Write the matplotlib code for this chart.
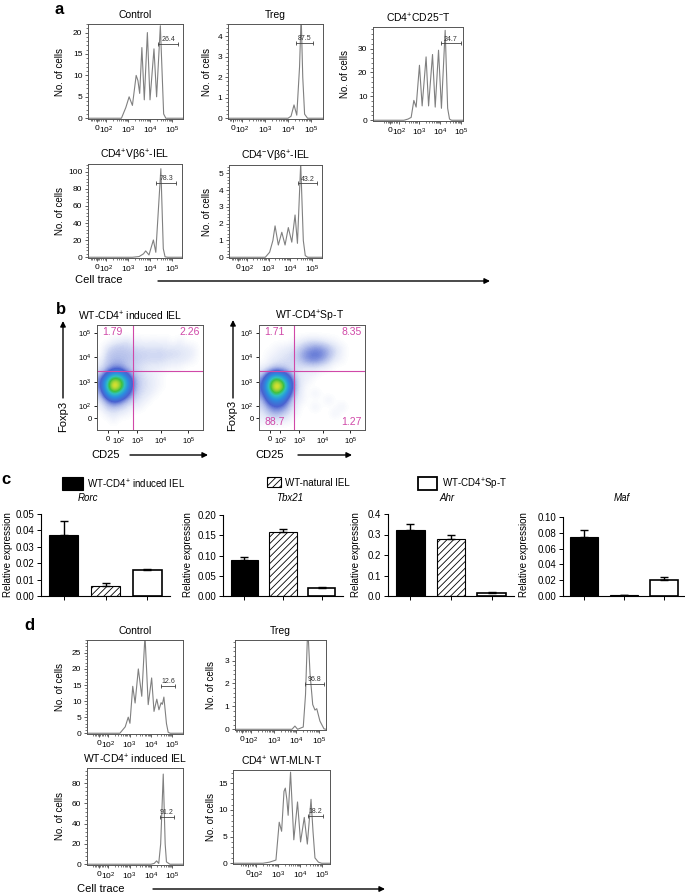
import matplotlib
matplotlib.use("Agg")
import matplotlib.pyplot as plt
import matplotlib.ticker as mticker
from matplotlib.patches import Rectangle
from matplotlib.colors import LinearSegmentedColormap
import numpy as np

W, H = 685, 896

plt.rcParams["font.family"] = ["Liberation Sans", "DejaVu Sans"]
plt.rcParams["mathtext.fontset"] = "custom"
plt.rcParams["mathtext.rm"] = "Liberation Sans"
plt.rcParams["mathtext.it"] = "Liberation Sans:italic"
plt.rcParams["hatch.linewidth"] = 0.6

# ── Data: histogram traces (x = log10 cell-trace, y = no. of cells) ──────────
a_ctrl_x = [1.18, 2.70, 2.90, 3.05, 3.20, 3.37, 3.45, 3.53, 3.63, 3.74, 3.88, 4.00,
            4.18, 4.30, 4.47, 4.62, 4.72, 5.50]
a_ctrl_y = [0, 0, 2.5, 5.0, 3.0, 10.0, 8.8, 5.8, 16.5, 4.3, 20.0, 4.3,
            16.2, 5.0, 21.6, 1.0, 0, 0]
a_treg_x = [1.39, 4.00, 4.13, 4.26, 4.38, 4.50, 4.57, 4.64, 4.72, 4.85, 5.52]
a_treg_y = [0, 0, 0.1, 0.65, 0.15, 2.5, 5.0, 2.0, 0.2, 0, 0]
a_cd25_x = [0.76, 2.25, 2.45, 2.60, 2.73, 2.84, 3.00, 3.13, 3.32, 3.44, 3.63, 3.76,
            3.92, 4.06, 4.24, 4.36, 4.45, 4.55, 5.10]
a_cd25_y = [0, 0, 0.5, 1.2, 8.3, 5.5, 23.0, 6.0, 26.5, 6.0, 27.5, 5.5,
            29.3, 5.0, 37.6, 5.0, 0.5, 0, 0]
a_vb6p_x = [1.18, 3.20, 3.50, 3.70, 3.80, 3.95, 4.15, 4.26, 4.49, 4.60, 4.68, 4.80, 5.45]
a_vb6p_y = [0, 0, 0.8, 4.0, 7.4, 2.7, 20.2, 5.8, 103.5, 10.0, 0.5, 0, 0]
a_cd4n_x = [1.18, 2.85, 3.05, 3.20, 3.30, 3.45, 3.61, 3.76, 3.91, 4.07, 4.22, 4.33,
            4.48, 4.60, 4.69, 4.80, 5.46]
a_cd4n_y = [0, 0, 0.3, 1.0, 1.87, 0.73, 1.49, 0.73, 1.77, 0.9, 2.52, 0.83,
            5.6, 1.0, 0.1, 0, 0]

d_ctrl_x = [1.02, 2.55, 2.80, 2.94, 3.02, 3.15, 3.26, 3.41, 3.57, 3.72, 3.87, 4.03,
            4.14, 4.27, 4.37, 4.47, 4.53, 4.60, 4.72, 4.80, 4.90, 5.49]
d_ctrl_y = [0, 0, 2.0, 5.0, 3.1, 14.6, 9.4, 20.0, 11.5, 30.5, 8.9, 17.2,
            6.8, 10.6, 7.3, 9.5, 9.0, 11.25, 3.0, 0.3, 0, 0]
d_treg_x = [1.27, 3.80, 3.93, 4.05, 4.30, 4.40, 4.50, 4.60, 4.72, 4.82, 4.90, 5.04, 5.22, 5.31]
d_treg_y = [0, 0, 0.14, 0, 0.1, 1.5, 4.5, 2.45, 1.08, 0.84, 0.9, 0.36, 0.02, 0]
d_iel_x = [1.02, 4.00, 4.15, 4.26, 4.36, 4.45, 4.57, 4.66, 4.72, 4.88, 5.49]
d_iel_y = [0, 0, 0.8, 3.3, 0.8, 20.0, 89.0, 20.0, 2.3, 0, 0]
d_mln_x = [0.93, 2.30, 2.60, 2.90, 3.05, 3.16, 3.27, 3.33, 3.40, 3.46, 3.57, 3.72,
           3.89, 4.03, 4.20, 4.34, 4.51, 4.60, 4.69, 4.85, 5.00, 5.38]
d_mln_y = [0, 0, 0.2, 0.6, 7.7, 6.0, 13.5, 14.1, 12.0, 9.0, 17.1, 4.4,
           11.5, 4.0, 8.6, 3.6, 12.0, 6.0, 1.0, 0.2, 0, 0]

# gates: (start, end, height, label)
a_gates = [(4.38, 5.29, 17.4, "26.4"), (4.35, 5.08, 3.68, "87.5"), (4.04, 4.99, 32.1, "24.7"),
           (4.27, 5.18, 87.2, "78.3"), (4.35, 5.25, 4.4, "43.2")]
d_gates = [(4.45, 5.12, 14.6, "12.6"), (4.38, 5.22, 1.98, "96.8"),
           (4.41, 5.07, 47.0, "91.2"), (4.35, 5.05, 8.85, "18.2")]

# ── Data: flow density grids (16 x 16, rows top -> bottom, density 0-10) ─────
iel_density = [
    [0] * 16,
    [0, 0, 0, 0, 0, 0, 0, 0, 0, 0, 0, 0, 0, 0, 0, 0],
    [0, 0, 0.3, 0.4, 0.6, 0.3, 0.3, 0.2, 0.3, 0.2, 0.3, 0, 0.3, 0, 0, 0],
    [0, 0.5, 0.8, 0.9, 0.8, 0.7, 0.6, 0.6, 0.6, 0.6, 0.5, 0.5, 0.5, 0.4, 0.3, 0],
    [0, 0.8, 1.0, 1.0, 1.0, 0.9, 0.8, 0.8, 0.7, 0.8, 0.7, 0.7, 0.6, 0.5, 0.4, 0],
    [0.3, 0.9, 1.1, 1.1, 1.0, 0.9, 0.8, 0.7, 0.7, 0.7, 0.6, 0.5, 0.5, 0.4, 0.2, 0],
    [0.5, 1.0, 1.5, 1.5, 1.0, 0.8, 0.6, 0.5, 0.4, 0.4, 0.3, 0.2, 0.2, 0, 0, 0],
    [0.9, 2.0, 3.5, 3.5, 2.0, 1.0, 0.7, 0.5, 0.3, 0.2, 0, 0, 0, 0, 0, 0],
    [1.5, 4.5, 8.0, 7.0, 4.0, 1.5, 0.8, 0.6, 0.4, 0.2, 0, 0, 0, 0, 0, 0],
    [1.5, 5.0, 9.5, 7.5, 4.0, 1.5, 0.8, 0.6, 0.4, 0.2, 0, 0, 0, 0, 0, 0],
    [1.0, 3.5, 5.5, 4.5, 2.5, 1.2, 0.7, 0.5, 0.3, 0, 0, 0, 0, 0, 0, 0],
    [0.6, 1.5, 2.5, 2.0, 1.2, 0.8, 0.5, 0.3, 0, 0, 0, 0, 0, 0, 0, 0],
    [0.3, 0.9, 1.0, 0.9, 0.6, 0.4, 0.3, 0, 0, 0, 0, 0, 0, 0, 0, 0],
    [0, 0.4, 0.6, 0.4, 0.3, 0, 0, 0, 0, 0, 0, 0, 0, 0, 0, 0],
    [0, 0, 0.3, 0, 0, 0, 0, 0, 0, 0, 0, 0, 0, 0, 0, 0],
    [0] * 16,
]
spt_density = [
    [0] * 16,
    [0] * 16,
    [0, 0, 0, 0, 0, 0.2, 0.4, 0.6, 0.6, 0.5, 0.3, 0.2, 0, 0, 0, 0],
    [0, 0, 0.2, 0.3, 0.4, 0.6, 0.9, 1.2, 1.4, 1.3, 1.0, 0.6, 0.3, 0, 0, 0],
    [0, 0.2, 0.3, 0.5, 0.6, 0.8, 1.3, 1.7, 1.9, 1.7, 1.2, 0.7, 0.3, 0, 0, 0],
    [0, 0.3, 0.5, 0.6, 0.7, 0.8, 1.1, 1.5, 1.6, 1.3, 0.9, 0.4, 0.2, 0, 0, 0],
    [0.3, 0.6, 0.9, 0.9, 0.7, 0.6, 0.6, 0.6, 0.6, 0.5, 0.3, 0, 0, 0, 0, 0],
    [0.8, 2.0, 3.0, 2.5, 1.5, 0.7, 0.4, 0.3, 0.3, 0, 0, 0, 0, 0, 0, 0],
    [1.5, 4.5, 7.5, 6.0, 3.0, 1.0, 0.4, 0.3, 0, 0, 0, 0, 0, 0, 0, 0],
    [1.8, 5.5, 9.5, 8.0, 3.5, 1.0, 0.4, 0, 0, 0, 0, 0, 0, 0, 0, 0],
    [1.5, 4.0, 6.5, 5.0, 2.5, 0.9, 0.3, 0, 0.4, 0, 0, 0, 0, 0, 0, 0],
    [1.0, 2.5, 3.5, 3.0, 1.5, 0.6, 0.3, 0, 0, 0, 0.4, 0, 0, 0, 0, 0],
    [0.7, 1.5, 2.0, 1.8, 1.0, 0.5, 0, 0, 0.4, 0, 0, 0, 0.4, 0, 0, 0],
    [0.5, 0.9, 1.2, 1.0, 0.6, 0.3, 0, 0, 0, 0, 0, 0.4, 0, 0, 0, 0],
    [0.3, 0.5, 0.6, 0.5, 0.3, 0, 0, 0, 0, 0, 0, 0, 0, 0, 0, 0],
    [0] * 16,
]
iel_quadrants = ["1.79", "2.26", "", ""]
spt_quadrants = ["1.71", "8.35", "88.7", "1.27"]

# ── Data: relative expression (mean, error) ──────────────────────────────────
groups = ["WT-CD4$^{+}$ induced IEL", "WT-natural IEL", "WT-CD4$^{+}$Sp-T"]
genes = ["Rorc", "Tbx21", "Ahr", "Maf"]
rorc_mean = [0.0373, 0.0063, 0.0159]
rorc_err = [0.0082, 0.0015, 0.0006]
tbx21_mean = [0.0889, 0.1588, 0.019]
tbx21_err = [0.0066, 0.0066, 0.004]
ahr_mean = [0.320, 0.279, 0.016]
ahr_err = [0.031, 0.018, 0.002]
maf_mean = [0.0748, 0.0008, 0.0202]
maf_err = [0.0084, 0.0003, 0.0034]

# ── Figure helpers ────────────────────────────────────────────────────────────
fig = plt.figure(figsize=(W / 100, H / 100), dpi=100)
over = fig.add_axes([0, 0, 1, 1])
over.set_xlim(0, W)
over.set_ylim(H, 0)
over.axis("off")


def px_ax(x0, y0, x1, y1):
    return fig.add_axes([x0 / W, 1 - y1 / H, (x1 - x0) / W, (y1 - y0) / H])


def label(x, y, s, **kw):
    kw.setdefault("ha", "center")
    kw.setdefault("va", "center")
    over.text(x, y, s, **kw)


def arrow(x0, y0, x1, y1):
    over.annotate("", xy=(x1, y1), xytext=(x0, y0),
                  arrowprops=dict(arrowstyle="-|>", color="k", lw=1.0,
                                  mutation_scale=8, shrinkA=0, shrinkB=0))


HIST_TICKS = [1.6, 2, 3, 4, 5]
HIST_LABELS = ["0", "$10^2$", "$10^3$", "$10^4$", "$10^5$"]


def histo(box, xlim, ytop, ystep, xs, ys, gate, title, ylab_x):
    ax = px_ax(*box)
    ax.plot(xs, ys, color="#808080", lw=0.8)
    g0, g1, gy, gl = gate
    ax.plot([g0, g1], [gy, gy], color="#444444", lw=0.6)
    ax.plot([g0, g1], [gy, gy], ls="none", marker="|", ms=3, mew=0.6, color="#444444")
    ax.text((g0 + g1) / 2, gy + ytop * 0.01, gl, ha="center", va="bottom",
            fontsize=5, color="#333333")
    ax.set_xlim(*xlim)
    ax.set_ylim(-ytop * 0.008, ytop)
    ax.set_xticks(HIST_TICKS)
    ax.set_xticklabels(HIST_LABELS)
    minors = list(np.arange(1.3, 1.95, 0.08)) + [np.log10(k * 10 ** d) for d in (2, 3, 4) for k in range(2, 10)]
    ax.set_xticks([m for m in minors if xlim[0] < m < xlim[1]], minor=True)
    ax.yaxis.set_major_locator(mticker.MultipleLocator(ystep))
    ax.yaxis.set_minor_locator(mticker.AutoMinorLocator(5))
    ax.tick_params(which="major", length=2.5, width=0.6, labelsize=6, pad=1.5, color="#444444")
    ax.tick_params(which="minor", length=1.3, width=0.5, color="#444444")
    for sp in ax.spines.values():
        sp.set_color("#555555")
        sp.set_linewidth(0.7)
    label((box[0] + box[2]) / 2, box[1] - 9, title, fontsize=7.5)
    label(ylab_x, (box[1] + box[3]) / 2, "No. of cells", fontsize=7, rotation=90)
    return ax


# ── Panel a ───────────────────────────────────────────────────────────────────
label(59, 9, "a", fontsize=12, fontweight="bold")
histo((88, 24, 183, 119), (1.18, 5.5), 22, 5, a_ctrl_x, a_ctrl_y, a_gates[0], "Control", 60)
histo((228, 24, 323, 119), (1.39, 5.52), 4.6, 1, a_treg_x, a_treg_y, a_gates[1], "Treg", 207)
histo((373, 27, 463, 121), (0.76, 5.1), 39, 10, a_cd25_x, a_cd25_y, a_gates[2],
      "CD4$^{+}$CD25$^{-}$T", 345)
histo((88, 164, 182, 258), (1.18, 5.45), 109, 20, a_vb6p_x, a_vb6p_y, a_gates[3],
      "CD4$^{+}$Vβ6$^{+}$-IEL", 60)
histo((229, 165, 322, 258), (1.18, 5.46), 5.5, 1, a_cd4n_x, a_cd4n_y, a_gates[4],
      "CD4$^{-}$Vβ6$^{+}$-IEL", 207)
label(75, 280, "Cell trace", fontsize=8, ha="left")
arrow(158, 281, 490, 281)

# ── Panel b ───────────────────────────────────────────────────────────────────
MAG = "#d048a8"
flow_cmap = LinearSegmentedColormap.from_list("flow", [
    (0.0, "#ffffff"), (0.05, "#e4e9f8"), (0.1, "#b8c3ec"), (0.2, "#4a62d0"),
    (0.35, "#2a8ee0"), (0.5, "#30c0c0"), (0.62, "#40c040"), (0.8, "#d8e030"),
    (0.92, "#f09020"), (1.0, "#e04020")])
SC_XT = [0.10, 0.20, 0.38, 0.60, 0.86]
SC_YT = [0.114, 0.229, 0.457, 0.695, 0.924]
SC_LAB = ["0", "$10^2$", "$10^3$", "$10^4$", "$10^5$"]


def flow(box, grid, quads, vgate, hgate, title, title_x):
    ax = px_ax(*box)
    ax.imshow(grid, extent=(0, 1, 0, 1), origin="upper", cmap=flow_cmap, vmin=0, vmax=10,
              interpolation="bicubic", aspect="auto")
    ax.axvline(vgate, color=MAG, lw=0.8)
    ax.axhline(hgate, color=MAG, lw=0.8)
    ax.set_xlim(0, 1)
    ax.set_ylim(0, 1)
    ax.set_xticks(SC_XT)
    ax.set_xticklabels(SC_LAB)
    ax.set_yticks(SC_YT)
    ax.set_yticklabels(SC_LAB)
    ax.tick_params(length=2.5, width=0.6, labelsize=5.5, pad=1.5)
    for sp in ax.spines.values():
        sp.set_linewidth(0.7)
        sp.set_color("#555555")
    kw = dict(fontsize=7.5, color=MAG, transform=ax.transAxes)
    ax.text(0.05, 0.93, quads[0], ha="left", va="center", **kw)
    ax.text(0.97, 0.93, quads[1], ha="right", va="center", **kw)
    ax.text(0.05, 0.08, quads[2], ha="left", va="center", **kw)
    ax.text(0.97, 0.08, quads[3], ha="right", va="center", **kw)
    label(title_x, box[1] - 9, title, fontsize=7.5)


label(61, 310, "b", fontsize=12, fontweight="bold")
flow((97, 325, 203, 430), iel_density, iel_quadrants, 0.34, 0.562,
     "WT-CD4$^{+}$ induced IEL", 130)
flow((259, 325, 365, 430), spt_density, spt_quadrants, 0.33, 0.562, "WT-CD4$^{+}$Sp-T", 310)
label(63, 416, "Foxp3", fontsize=8, rotation=90)
arrow(63, 398, 63, 321)
label(106, 455, "CD25", fontsize=8)
arrow(130, 455, 208, 455)
label(232, 415, "Foxp3", fontsize=8, rotation=90)
arrow(233, 398, 233, 320)
label(270, 455, "CD25", fontsize=8)
arrow(298, 455, 352, 455)

# ── Panel c ───────────────────────────────────────────────────────────────────
label(6, 480, "c", fontsize=12, fontweight="bold")
over.add_patch(Rectangle((62, 477), 21, 13, facecolor="k", edgecolor="k", lw=0.8))
label(87, 484, groups[0], fontsize=7, ha="left")
over.add_patch(Rectangle((267, 477), 14, 10, facecolor="white", edgecolor="k", lw=0.8, hatch="/////"))
label(285, 483, groups[1], fontsize=7, ha="left")
over.add_patch(Rectangle((418, 477), 19, 13, facecolor="white", edgecolor="k", lw=1.3))
label(442, 484, groups[2], fontsize=7, ha="left")


def bars(box, mean, err, xlim, ytop, ystep, fmt, gene, title_x, ylab_x):
    ax = px_ax(*box)
    pos = [0, 1, 2]
    ax.bar(pos[0], mean[0], 0.7, color="k", edgecolor="k", lw=0.8)
    ax.bar(pos[1], mean[1], 0.7, color="white", edgecolor="k", lw=0.8, hatch="/////")
    ax.bar(pos[2], mean[2], 0.7, color="white", edgecolor="k", lw=1.2)
    ax.errorbar(pos, mean, yerr=[[0, 0, 0], err], fmt="none", ecolor="k",
                elinewidth=1.0, capsize=3, capthick=1.0)
    ax.set_xlim(*xlim)
    ax.set_ylim(0, ytop)
    ax.set_xticks(pos)
    ax.set_xticklabels([])
    ax.yaxis.set_major_locator(mticker.MultipleLocator(ystep))
    ax.yaxis.set_major_formatter(mticker.FormatStrFormatter(fmt))
    ax.tick_params(length=3, width=0.7, labelsize=7, pad=2)
    ax.spines[["top", "right"]].set_visible(False)
    for s in ("left", "bottom"):
        ax.spines[s].set_linewidth(0.8)
    ax.patch.set_alpha(0)
    label(title_x, 498, gene, fontsize=7, style="italic")
    label(ylab_x, 555, "Relative expression", fontsize=7, rotation=90)


bars((41, 514, 170, 596), rorc_mean, rorc_err, (-0.55, 2.55), 0.05, 0.01, "%.2f", genes[0], 88, 8)
bars((223, 515, 343, 596), tbx21_mean, tbx21_err, (-0.55, 2.55), 0.20, 0.05, "%.2f", genes[1], 290, 188)
bars((388, 514, 514, 596), ahr_mean, ahr_err, (-0.55, 2.55), 0.4, 0.1, "%.1f", genes[2], 447, 356)
bars((563, 517, 684, 596), maf_mean, maf_err, (-0.52, 2.5), 0.10, 0.02, "%.2f", genes[3], 622, 524)

# ── Panel d ───────────────────────────────────────────────────────────────────
label(29, 625, "d", fontsize=12, fontweight="bold")
histo((87, 640, 183, 734), (1.02, 5.49), 29, 5, d_ctrl_x, d_ctrl_y, d_gates[0], "Control", 60)
histo((235, 640, 326, 730), (1.27, 5.31), 3.9, 1, d_treg_x, d_treg_y, d_gates[1], "Treg", 211)
histo((87, 768, 183, 865), (1.02, 5.49), 95, 20, d_iel_x, d_iel_y, d_gates[2],
      "WT-CD4$^{+}$ induced IEL", 60)
histo((233, 770, 330, 864), (0.93, 5.38), 17.5, 5, d_mln_x, d_mln_y, d_gates[3],
      "CD4$^{+}$ WT-MLN-T", 211)
label(77, 889, "Cell trace", fontsize=8, ha="left")
arrow(153, 889, 385, 889)

fig.savefig("out.png", dpi=100)
